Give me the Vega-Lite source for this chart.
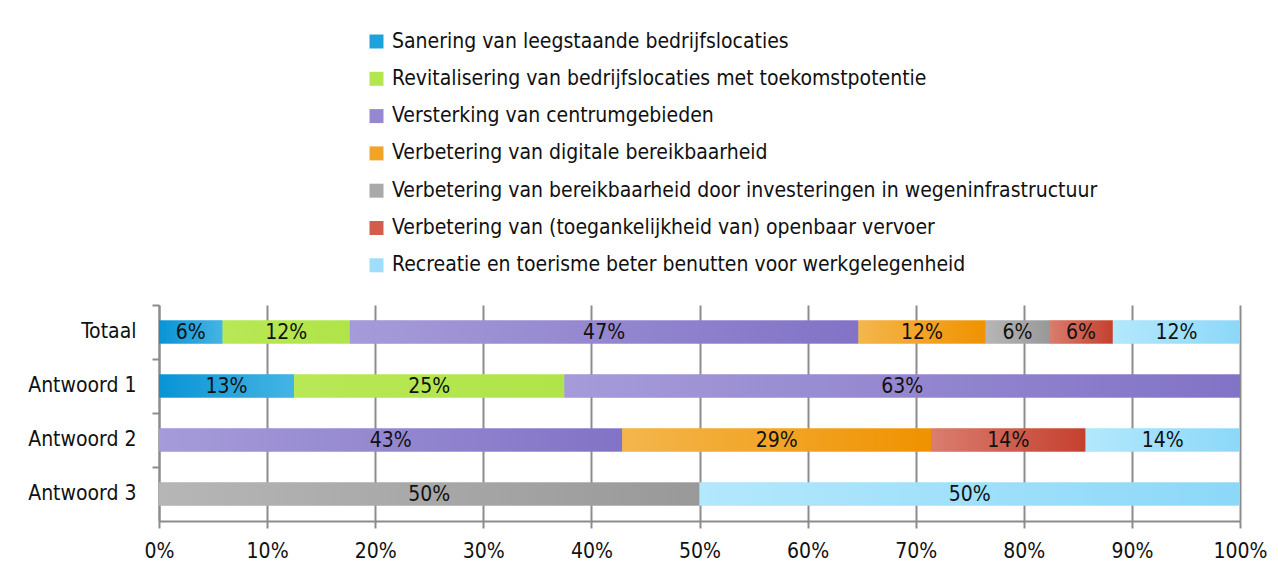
{
  "$schema": "https://vega.github.io/schema/vega-lite/v6.json",
  "autosize": "none",
  "width": 1081,
  "height": 216,
  "padding": {"left": 159, "top": 305, "right": 38, "bottom": 54},
  "background": "white",
  "config": {
    "font": "'DejaVu Sans Condensed', Roboto, sans-serif",
    "view": {"stroke": null},
    "axisX": {
      "grid": true,
      "gridColor": "#8c8c8c",
      "gridWidth": 2,
      "domainColor": "#8c8c8c",
      "domainWidth": 2,
      "tickColor": "#8c8c8c",
      "tickWidth": 2,
      "tickSize": 7,
      "labelFontSize": 21,
      "labelColor": "#111111",
      "labelPadding": 12,
      "labelFlush": false
    },
    "axisY": {
      "bandPosition": 0,
      "domainColor": "#8c8c8c",
      "domainWidth": 2,
      "tickColor": "#8c8c8c",
      "tickWidth": 2,
      "tickSize": 7,
      "labelFontSize": 21,
      "labelColor": "#111111",
      "labelPadding": 16,
      "grid": false
    }
  },
  "data": {
    "values": [
      {"rij": "Totaal", "cat": "Sanering van leegstaande bedrijfslocaties", "k": 1, "n": 1, "label": "6%"},
      {"rij": "Totaal", "cat": "Revitalisering van bedrijfslocaties met toekomstpotentie", "k": 2, "n": 2, "label": "12%"},
      {"rij": "Totaal", "cat": "Versterking van centrumgebieden", "k": 3, "n": 8, "label": "47%"},
      {"rij": "Totaal", "cat": "Verbetering van digitale bereikbaarheid", "k": 4, "n": 2, "label": "12%"},
      {"rij": "Totaal", "cat": "Verbetering van bereikbaarheid door investeringen in wegeninfrastructuur", "k": 5, "n": 1, "label": "6%"},
      {"rij": "Totaal", "cat": "Verbetering van (toegankelijkheid van) openbaar vervoer", "k": 6, "n": 1, "label": "6%"},
      {"rij": "Totaal", "cat": "Recreatie en toerisme beter benutten voor werkgelegenheid", "k": 7, "n": 2, "label": "12%"},
      {"rij": "Antwoord 1", "cat": "Sanering van leegstaande bedrijfslocaties", "k": 1, "n": 1, "label": "13%"},
      {"rij": "Antwoord 1", "cat": "Revitalisering van bedrijfslocaties met toekomstpotentie", "k": 2, "n": 2, "label": "25%"},
      {"rij": "Antwoord 1", "cat": "Versterking van centrumgebieden", "k": 3, "n": 5, "label": "63%"},
      {"rij": "Antwoord 2", "cat": "Versterking van centrumgebieden", "k": 3, "n": 3, "label": "43%"},
      {"rij": "Antwoord 2", "cat": "Verbetering van digitale bereikbaarheid", "k": 4, "n": 2, "label": "29%"},
      {"rij": "Antwoord 2", "cat": "Verbetering van (toegankelijkheid van) openbaar vervoer", "k": 6, "n": 1, "label": "14%"},
      {"rij": "Antwoord 2", "cat": "Recreatie en toerisme beter benutten voor werkgelegenheid", "k": 7, "n": 1, "label": "14%"},
      {"rij": "Antwoord 3", "cat": "Verbetering van bereikbaarheid door investeringen in wegeninfrastructuur", "k": 5, "n": 1, "label": "50%"},
      {"rij": "Antwoord 3", "cat": "Recreatie en toerisme beter benutten voor werkgelegenheid", "k": 7, "n": 1, "label": "50%"}
    ]
  },
  "encoding": {
    "y": {
      "field": "rij",
      "type": "nominal",
      "title": null,
      "sort": ["Totaal", "Antwoord 1", "Antwoord 2", "Antwoord 3"],
      "scale": {"paddingInner": 0, "paddingOuter": 0}
    }
  },
  "layer": [
    {
      "mark": {"type": "bar", "size": 23},
      "encoding": {
        "x": {"field": "n", "type": "quantitative", "stack": "normalize", "title": null,
              "axis": {"format": ".0%", "values": [0, 0.1, 0.2, 0.3, 0.4, 0.5, 0.6, 0.7, 0.8, 0.9, 1]}},
        "order": {"field": "k", "type": "quantitative"},
        "color": {
          "field": "cat",
          "type": "nominal",
          "scale": {
            "domain": [
              "Sanering van leegstaande bedrijfslocaties",
              "Revitalisering van bedrijfslocaties met toekomstpotentie",
              "Versterking van centrumgebieden",
              "Verbetering van digitale bereikbaarheid",
              "Verbetering van bereikbaarheid door investeringen in wegeninfrastructuur",
              "Verbetering van (toegankelijkheid van) openbaar vervoer",
              "Recreatie en toerisme beter benutten voor werkgelegenheid"
            ],
            "range": ["#1ea2dc", "#b4e64f", "#9588d0", "#f2a428", "#a9a9a9", "#d25d4b", "#9fdefa"]
          },
          "legend": {
            "title": null,
            "orient": "none",
            "legendX": 207,
            "legendY": -274,
            "padding": 0,
            "direction": "vertical",
            "labelFontSize": 21,
            "labelColor": "#111111",
            "labelLimit": 900,
            "labelOffset": 5,
            "symbolType": "square",
            "symbolSize": 196,
            "symbolStrokeWidth": 0,
            "rowPadding": 15.3
          }
        }
      }
    },
    {
      "transform": [
        {"stack": "n", "groupby": ["rij"], "sort": [{"field": "k", "order": "ascending"}], "offset": "normalize", "as": ["x0", "x1"]},
        {"filter": "datum.k == 1"}
      ],
      "mark": {"type": "bar", "size": 23, "color": {"gradient": "linear", "x1": 0, "y1": 0, "x2": 1, "y2": 0, "stops": [{"offset": 0, "color": "#0894d5"}, {"offset": 1, "color": "#45b4e4"}]}},
      "encoding": {"x": {"field": "x0", "type": "quantitative", "title": null, "axis": {"format": ".0%", "values": [0, 0.1, 0.2, 0.3, 0.4, 0.5, 0.6, 0.7, 0.8, 0.9, 1]}}, "x2": {"field": "x1"}}
    },
    {
      "transform": [
        {"stack": "n", "groupby": ["rij"], "sort": [{"field": "k", "order": "ascending"}], "offset": "normalize", "as": ["x0", "x1"]},
        {"filter": "datum.k == 2"}
      ],
      "mark": {"type": "bar", "size": 23, "color": {"gradient": "linear", "x1": 0, "y1": 0, "x2": 1, "y2": 0, "stops": [{"offset": 0, "color": "#b8e856"}, {"offset": 1, "color": "#b0e448"}]}},
      "encoding": {"x": {"field": "x0", "type": "quantitative", "title": null, "axis": {"format": ".0%", "values": [0, 0.1, 0.2, 0.3, 0.4, 0.5, 0.6, 0.7, 0.8, 0.9, 1]}}, "x2": {"field": "x1"}}
    },
    {
      "transform": [
        {"stack": "n", "groupby": ["rij"], "sort": [{"field": "k", "order": "ascending"}], "offset": "normalize", "as": ["x0", "x1"]},
        {"filter": "datum.k == 3"}
      ],
      "mark": {"type": "bar", "size": 23, "color": {"gradient": "linear", "x1": 0, "y1": 0, "x2": 1, "y2": 0, "stops": [{"offset": 0, "color": "#a69bd9"}, {"offset": 1, "color": "#8273c6"}]}},
      "encoding": {"x": {"field": "x0", "type": "quantitative", "title": null, "axis": {"format": ".0%", "values": [0, 0.1, 0.2, 0.3, 0.4, 0.5, 0.6, 0.7, 0.8, 0.9, 1]}}, "x2": {"field": "x1"}}
    },
    {
      "transform": [
        {"stack": "n", "groupby": ["rij"], "sort": [{"field": "k", "order": "ascending"}], "offset": "normalize", "as": ["x0", "x1"]},
        {"filter": "datum.k == 4"}
      ],
      "mark": {"type": "bar", "size": 23, "color": {"gradient": "linear", "x1": 0, "y1": 0, "x2": 1, "y2": 0, "stops": [{"offset": 0, "color": "#f4b64c"}, {"offset": 1, "color": "#f09200"}]}},
      "encoding": {"x": {"field": "x0", "type": "quantitative", "title": null, "axis": {"format": ".0%", "values": [0, 0.1, 0.2, 0.3, 0.4, 0.5, 0.6, 0.7, 0.8, 0.9, 1]}}, "x2": {"field": "x1"}}
    },
    {
      "transform": [
        {"stack": "n", "groupby": ["rij"], "sort": [{"field": "k", "order": "ascending"}], "offset": "normalize", "as": ["x0", "x1"]},
        {"filter": "datum.k == 5"}
      ],
      "mark": {"type": "bar", "size": 23, "color": {"gradient": "linear", "x1": 0, "y1": 0, "x2": 1, "y2": 0, "stops": [{"offset": 0, "color": "#b6b6b6"}, {"offset": 1, "color": "#999999"}]}},
      "encoding": {"x": {"field": "x0", "type": "quantitative", "title": null, "axis": {"format": ".0%", "values": [0, 0.1, 0.2, 0.3, 0.4, 0.5, 0.6, 0.7, 0.8, 0.9, 1]}}, "x2": {"field": "x1"}}
    },
    {
      "transform": [
        {"stack": "n", "groupby": ["rij"], "sort": [{"field": "k", "order": "ascending"}], "offset": "normalize", "as": ["x0", "x1"]},
        {"filter": "datum.k == 6"}
      ],
      "mark": {"type": "bar", "size": 23, "color": {"gradient": "linear", "x1": 0, "y1": 0, "x2": 1, "y2": 0, "stops": [{"offset": 0, "color": "#da7d6f"}, {"offset": 1, "color": "#c5402e"}]}},
      "encoding": {"x": {"field": "x0", "type": "quantitative", "title": null, "axis": {"format": ".0%", "values": [0, 0.1, 0.2, 0.3, 0.4, 0.5, 0.6, 0.7, 0.8, 0.9, 1]}}, "x2": {"field": "x1"}}
    },
    {
      "transform": [
        {"stack": "n", "groupby": ["rij"], "sort": [{"field": "k", "order": "ascending"}], "offset": "normalize", "as": ["x0", "x1"]},
        {"filter": "datum.k == 7"}
      ],
      "mark": {"type": "bar", "size": 23, "color": {"gradient": "linear", "x1": 0, "y1": 0, "x2": 1, "y2": 0, "stops": [{"offset": 0, "color": "#b3e8fd"}, {"offset": 1, "color": "#8cd8f8"}]}},
      "encoding": {"x": {"field": "x0", "type": "quantitative", "title": null, "axis": {"format": ".0%", "values": [0, 0.1, 0.2, 0.3, 0.4, 0.5, 0.6, 0.7, 0.8, 0.9, 1]}}, "x2": {"field": "x1"}}
    },
    {
      "mark": {"type": "text", "fontSize": 21, "color": "#111111", "baseline": "middle", "dy": 1},
      "encoding": {
        "x": {"field": "n", "type": "quantitative", "stack": "normalize", "bandPosition": 0.5, "title": null, "axis": {"format": ".0%", "values": [0, 0.1, 0.2, 0.3, 0.4, 0.5, 0.6, 0.7, 0.8, 0.9, 1]}},
        "order": {"field": "k", "type": "quantitative"},
        "detail": {"field": "cat"},
        "text": {"field": "label"}
      }
    }
  ]
}
